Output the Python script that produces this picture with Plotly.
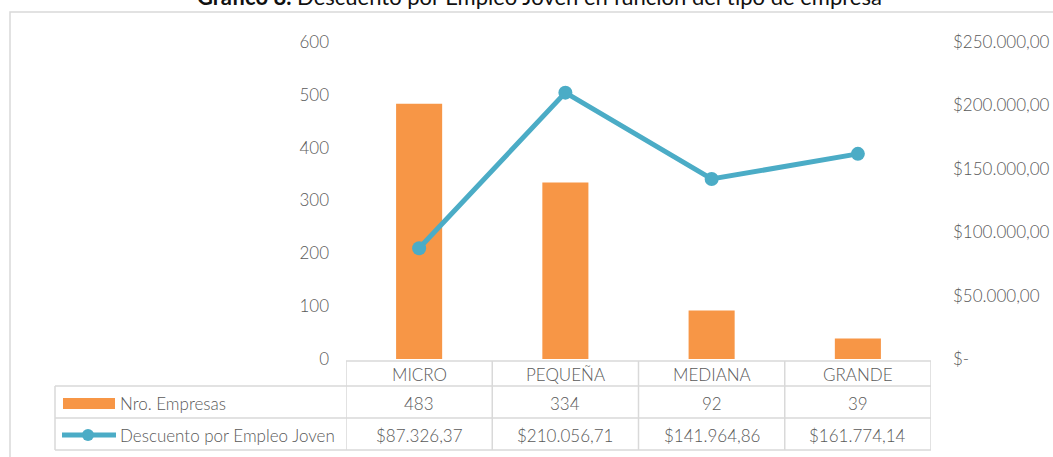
import plotly.graph_objects as go

# ---------------- data ----------------
categories = ["MICRO", "PEQUEÑA", "MEDIANA", "GRANDE"]
nro_empresas = [483, 334, 92, 39]
descuento = [87326.37, 210056.71, 141964.86, 161774.14]
left_ticks = [0, 100, 200, 300, 400, 500, 600]
right_ticks = [0, 50000, 100000, 150000, 200000, 250000]
right_ticktext = ["$-", "$50.000,00", "$100.000,00", "$150.000,00", "$200.000,00", "$250.000,00"]
series_names = ["Nro. Empresas", "Descuento por Empleo Joven"]

BAR_COLOR = "#F79646"
LINE_COLOR = "#4BACC6"
GRID = "#D9D9D9"
TXT = "#595959"
FONT = "Lato"
FS = 17

W, H = 1053, 457
ML, MR, MT, MB = 346, 122, 42, 98
PW, PH = W - ML - MR, H - MT - MB


def px(x):
    return (x - ML) / PW


def py(y):
    return (H - MB - y) / PH


def fmt_money(v):
    s = f"{v:,.2f}"
    s = s.replace(",", "X").replace(".", ",").replace("X", ".")
    return "$" + s


tfont = dict(family=FONT, size=FS, color=TXT, weight=300)

fig = go.Figure()
fig.add_trace(go.Bar(
    x=list(range(len(categories))), y=nro_empresas, name=series_names[0],
    marker=dict(color=BAR_COLOR, line=dict(width=0)), width=0.315, yaxis="y",
))
fig.add_trace(go.Scatter(
    x=list(range(len(categories))), y=descuento, name=series_names[1],
    mode="lines+markers", line=dict(color=LINE_COLOR, width=5),
    marker=dict(color=LINE_COLOR, size=14), yaxis="y2",
))

shapes = []
annotations = []

# chart border
shapes.append(dict(type="rect", xref="paper", yref="paper",
                   x0=px(10), x1=px(1070), y0=py(12), y1=py(480),
                   line=dict(color=GRID, width=1.5), layer="below"))

# data table
n = len(categories)
y_head_top, y_head_bot, y_r1_bot, y_r2_bot = 361, 386, 418, 450
x_table_left = 55
for i in range(n + 1):
    shapes.append(dict(type="line", xref="x", yref="paper",
                       x0=i - 0.5, x1=i - 0.5, y0=py(y_head_top), y1=py(y_r2_bot),
                       line=dict(color=GRID, width=1.5)))
shapes.append(dict(type="line", xref="paper", yref="paper",
                   x0=px(x_table_left), x1=px(x_table_left), y0=py(y_head_bot), y1=py(y_r2_bot),
                   line=dict(color=GRID, width=1.5)))
shapes.append(dict(type="line", xref="x", yref="paper", x0=-0.5, x1=n - 0.5,
                   y0=py(y_head_top), y1=py(y_head_top), line=dict(color=GRID, width=1.5)))
for yy in (y_head_bot, y_r1_bot, y_r2_bot):
    shapes.append(dict(type="line", xref="paper", yref="paper", x0=px(x_table_left), x1=1,
                       y0=py(yy), y1=py(yy), line=dict(color=GRID, width=1.5)))

row_centers = [374, 403, 435]
for i, c in enumerate(categories):
    for r, txt in enumerate([c, str(nro_empresas[i]), fmt_money(descuento[i])]):
        annotations.append(dict(x=i, y=py(row_centers[r]), xref="x", yref="paper", text=txt,
                                xanchor="center", yanchor="middle",
                                showarrow=False, font=tfont))

# legend keys in table
shapes.append(dict(type="rect", xref="paper", yref="paper", x0=px(63), x1=px(115),
                   y0=py(409), y1=py(398), fillcolor=BAR_COLOR, line=dict(width=0)))
shapes.append(dict(type="line", xref="paper", yref="paper", x0=px(62), x1=px(116),
                   y0=py(435), y1=py(435), line=dict(color=LINE_COLOR, width=5)))
shapes.append(dict(type="circle", xref="paper", yref="paper", x0=px(82), x1=px(94),
                   y0=py(441), y1=py(429), fillcolor=LINE_COLOR, line=dict(width=0)))
for r, name in enumerate(series_names):
    annotations.append(dict(x=px(118), y=py(row_centers[r + 1]), xref="paper", yref="paper",
                            xanchor="left", yanchor="middle",
                            text=name, showarrow=False, font=tfont))

# title (cut at top)
annotations.append(dict(x=px(539), y=py(12), xref="paper", yref="paper",
                        xanchor="center", yanchor="bottom",
                        text="<b>Gráfico 8.</b> Descuento por Empleo Joven en función del tipo de empresa",
                        showarrow=False, font=dict(family=FONT, size=22, color="#111111")))

fig.update_layout(
    width=W, height=H,
    margin=dict(l=ML, r=MR, t=MT, b=MB, pad=0, autoexpand=False),
    paper_bgcolor="white", plot_bgcolor="white",
    showlegend=False,
    font=dict(family=FONT, color=TXT, size=FS),
    xaxis=dict(range=[-0.5, n - 0.5], showticklabels=False, showgrid=False, zeroline=False,
               showline=False, ticks="", automargin=False),
    yaxis=dict(range=[0, 600], tickvals=left_ticks, showgrid=False, zeroline=False,
               showline=False, ticks="", ticklabelstandoff=16, tickfont=tfont, automargin=False),
    yaxis2=dict(range=[0, 250000], overlaying="y", side="right", tickvals=right_ticks,
                ticktext=right_ticktext, showgrid=False, zeroline=False, showline=False,
                ticks="", ticklabelstandoff=21, tickfont=tfont, automargin=False),
    shapes=shapes, annotations=annotations,
)

fig.write_html("out.html", config={"displayModeBar": False},
               post_script="document.body.style.margin='0';document.body.style.overflow='hidden';")
